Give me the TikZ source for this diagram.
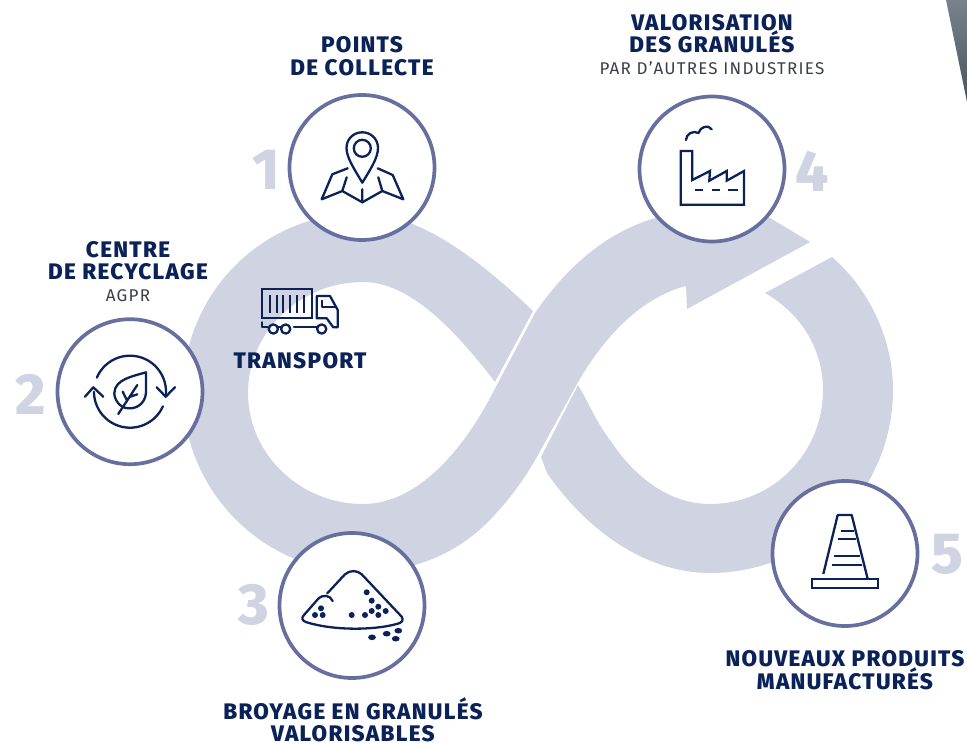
\documentclass[tikz,border=0pt]{standalone}
\usepackage{fontspec}
\setmainfont{Fira Sans}[BoldFont={Fira Sans ExtraBold}]
\newfontfamily\headfont{Fira Sans ExtraBold}[LetterSpace=5.8]
\newfontfamily\subfont{Fira Sans}[LetterSpace=7.2]
\definecolor{band}{HTML}{D0D4E2}
\definecolor{ring}{HTML}{666F9E}
\definecolor{navy}{HTML}{0B2259}
\definecolor{subt}{HTML}{3A3F4A}
\definecolor{cornertop}{HTML}{78828C}
\definecolor{cornerbot}{HTML}{46555F}
\tikzset{
  px/.style={x=1pt,y=-1pt},
  stepring/.style={circle,draw=ring,fill=white,line width=3.7pt,minimum size=145pt,inner sep=0pt},
  icon/.style={draw=navy,line width=2.3pt,line cap=round,line join=round},
  head/.style={text=navy,font=\headfont\fontsize{22.5}{22.5}\selectfont,align=center,inner sep=0pt},
  subhead/.style={text=subt,font=\subfont\fontsize{17}{18}\selectfont,inner sep=0pt},
  numeral/.style={text=band,font=\fontsize{58}{60}\selectfont\bfseries,inner sep=0pt},
}
\begin{document}
\begin{tikzpicture}[px]
\useasboundingbox (0,0) rectangle (967,742);
% corner shape
\shade[top color=cornertop,bottom color=cornerbot] (946,0) -- (967,102) -- (967,0) -- cycle;
% main band with arrowhead
\fill[band] (533,311) .. controls (482,262) and (420,213) .. (362,213)
  .. controls (263,213) and (183,293) .. (183,392)
  .. controls (183,491) and (263,572) .. (362,572)
  .. controls (420,572) and (465,550) .. (500,509)
  .. controls (515,492) and (528,473) .. (538,455)
  -- (577,384)
  .. controls (603,338) and (640,298) .. (686,286)
  -- (687,309) -- (810,242) -- (770,218)
  .. controls (750,212) and (730,210) .. (712,210)
  .. controls (630,210) and (575,255) .. (535,313)
  -- (490,398)
  .. controls (465,445) and (420,504) .. (363,504)
  .. controls (300,504) and (248,454) .. (248,393)
  .. controls (248,332) and (300,282) .. (363,282)
  .. controls (410,282) and (455,330) .. (495,382)
  -- cycle;
% second band
\fill[band] (832,257) .. controls (870,290) and (893,340) .. (893,390)
  .. controls (893,491) and (811,573) .. (710,573)
  .. controls (650,573) and (590,535) .. (547,473)
  -- (541,457) -- (578,385)
  .. controls (590,405) and (595,420) .. (610,440)
  .. controls (635,478) and (670,504) .. (710,504)
  .. controls (773,504) and (823,453) .. (823,390)
  .. controls (823,348) and (800,313) .. (765,293)
  -- cycle;
% rings
\node[stepring] (collecte) at (362,167.5) {};
\node[stepring] (recyclage) at (130,391.7) {};
\node[stepring] (broyage) at (352,605.5) {};
\node[stepring] (valorisation) at (712,169) {};
\node[stepring] (produits) at (845,553.5) {};
% numerals
\node[numeral] (n1) at (266,170) {1};
\node[numeral] (n2) at (31,394) {2};
\node[numeral] (n3) at (254,605) {3};
\node[numeral] (n4) at (812,171) {4};
\node[numeral] (n5) at (947,554) {5};
% pin and map
\draw[icon] (362.3,182.7) .. controls (355,170) and (346.5,158) .. (346.5,148) .. controls (346.5,139) and (353.5,132.3) .. (362.3,132.3) .. controls (371,132.3) and (378,139) .. (378,148) .. controls (378,158) and (370,170) .. (362.3,182.7) -- cycle;
\draw[icon] (362.3,148.3) circle[radius=8.5pt];
\draw[icon] (347.7,168.3) -- (332.3,174.3) -- (321.7,199.3) -- (342.3,191) -- (362.3,202.3) -- (382.3,191) -- (403.3,199.3) -- (392.7,175) -- (377.7,168.3);
\draw[icon] (346.7,177.3) -- (342.3,191) (378.3,177.3) -- (382.3,191) (362.3,189.3) -- (362.3,202.3);
% factory
\draw[icon,line cap=butt,line join=miter] (680.7,151) -- (692.3,151) -- (692.3,180) -- (710,171) -- (709.3,180.7) -- (726.7,171) -- (726.7,180.7) -- (744,171) -- (744,204.7) -- (680.7,204.7) -- cycle;
\draw[icon,line cap=butt] (695,190) -- (702.7,190) (711.7,190) -- (720,190) (728.3,190) -- (738.3,190);
\draw[icon] (686,140) .. controls (686,134) and (693,130) .. (698.5,133) .. controls (700,127) and (708,124) .. (711.7,129.3);
% recycling leaf
\draw[icon] plot[domain=203:367,samples=50] ({130+36*cos(\x)},{391.7+36*sin(\x)});
\draw[icon] plot[domain=24:180,samples=40] ({130+36*cos(\x)},{391.7+36*sin(\x)});
\draw[icon] (156.7,387.3) -- (165.7,396.7) -- (175,387.3);
\draw[icon] (85,396.7) -- (93.3,387.3) -- (103.3,396.7);
\draw[icon] (146,372.3) .. controls (134,376) and (114.5,379) .. (114.3,393.3) .. controls (114.5,400) and (120,408) .. (128.3,408.3) .. controls (140,409) and (146,400) .. (146,391.7) -- cycle;
\draw[icon] (118.3,414) -- (137.3,385) (122.7,391.7) -- (127.3,401) (129.5,397) -- (137.3,394.3);
% pile
\draw[icon] (327.3,593.3) -- (345,574.3) .. controls (350,570) and (357,570) .. (361.7,574.3) -- (401.7,616.7) .. controls (404,620) and (402,623) .. (396.7,624) .. controls (375,630) and (335,631) .. (306.7,622.3) .. controls (302,621) and (301,618) .. (304,615) -- (318,599) .. controls (323,594) and (330,595) .. (332.7,601);
\foreach \dx/\dy in {321/608.3,315/615,322.7/615,351.7/615,365/615,371.7/611,378.3/615,385.7/611,378.3/606.7,371.7/600.7,366.7/592.3}
  \fill[navy] (\dx,\dy) circle[radius=3pt];
\foreach \dx/\dy in {372/637.3,386.7/633.7,398.3/630.7,395.7/638.7}
  \fill[navy] (\dx,\dy) ellipse[x radius=3.9pt,y radius=2.8pt];
% cone
\draw[icon,line cap=butt] (823.3,574) -- (837.7,515) -- (851.7,515) -- (867.7,579);
\draw[icon,line cap=butt,line join=miter] (812.3,579.3) rectangle (877.7,588.3);
\draw[icon,line cap=butt] (841,530.7) -- (854.3,530.7) (838.3,539.3) -- (855.7,539.3) (834.3,556) -- (860,556) (831.7,565) -- (862.3,565);
% truck
\draw[icon,line join=miter] (262.3,289.3) rectangle (311.7,318.3);
\foreach \sx in {270,276.7,283.3,290,296.7,304}
  \draw[icon,line cap=butt] (\sx,295) -- (\sx,313.3);
\draw[icon] (316.7,318.3) -- (316.7,296) -- (330,296) -- (337.7,310) -- (337.7,327.3) -- (333.3,327.3) -- (326.7,318.3) -- cycle;
\draw[icon] (322.3,300.7) -- (322.3,307.3) -- (335,307.3);
\draw[icon] (262.3,322.3) -- (262.3,327.3) -- (268,327.3) (278.5,327.3) -- (280.7,327.3) (294,326.7) -- (316.7,326.7);
\draw[icon] (273.3,329) circle[radius=4.6pt] (285.7,329) circle[radius=4.6pt] (321.7,329) circle[radius=4.6pt];
% labels
\node[head] (tcollecte) at (362,56) {POINTS\\DE COLLECTE};
\node[head] (tvalo) at (712,33.5) {VALORISATION\\DES GRANULÉS};
\node[subhead] (svalo) at (712,68) {PAR D’AUTRES INDUSTRIES};
\node[head] (trecy) at (128,260.5) {CENTRE\\DE RECYCLAGE};
\node[subhead] (srecy) at (128,296) {AGPR};
\node[head] (ttrans) at (300,361) {TRANSPORT};
\node[head] (tbroy) at (353,720) {BROYAGE EN GRANULÉS\\VALORISABLES};
\node[head] (tprod) at (845,670) {NOUVEAUX PRODUITS\\MANUFACTURÉS};
\end{tikzpicture}
\end{document}
